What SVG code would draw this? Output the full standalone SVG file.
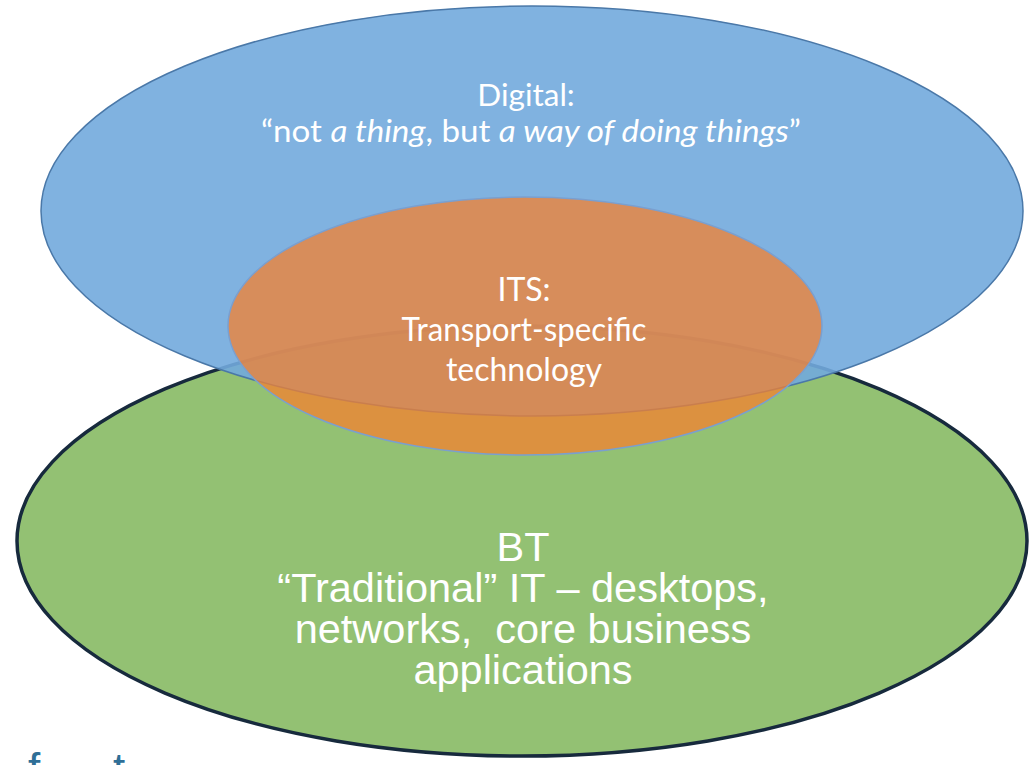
<svg xmlns="http://www.w3.org/2000/svg" width="1029" height="765" viewBox="0 0 1029 765">
<style>
.cal{font-family:Lato,"Open Sans","Noto Sans",sans-serif;fill:#ffffff;text-anchor:middle}
.ar{font-family:"Liberation Sans",Arial,sans-serif;fill:#ffffff;text-anchor:middle;white-space:pre}
.foot{font-family:"Liberation Sans",Arial,sans-serif;fill:#2f6f97;font-size:44px}
</style>
<rect width="1029" height="765" fill="#ffffff"/>
<g id="bt">
<ellipse cx="522" cy="541" rx="505" ry="215" fill="#93c173" stroke="#172a3d" stroke-width="3.5"/>
</g>
<g id="digital">
<ellipse cx="532" cy="211" rx="491" ry="205" fill="#72aadd" fill-opacity="0.9" stroke="#4a78a8" stroke-width="1.5"/>
</g>
<g id="its">
<ellipse cx="525" cy="326" rx="297" ry="129" fill="#f4802f" fill-opacity="0.75" stroke="#7a9fcf" stroke-width="1.5"/>
</g>
<g id="labels-digital">
<text class="cal" x="526" y="106" font-size="31.5">Digital:</text>
<text class="cal" x="531" y="142" font-size="31" textLength="540" lengthAdjust="spacingAndGlyphs">“not <tspan font-style="italic">a thing</tspan>, but <tspan font-style="italic">a way of doing things</tspan>”</text>
</g>
<g id="labels-its">
<text class="cal" x="524" y="301" font-size="32">ITS:</text>
<text class="cal" x="524" y="341" font-size="32" textLength="245" lengthAdjust="spacingAndGlyphs">Transport-specific</text>
<text class="cal" x="524" y="381" font-size="32">technology</text>
</g>
<g id="labels-bt">
<text class="ar" x="523" y="561" font-size="41.5">BT</text>
<text class="ar" x="523" y="602" font-size="41.5">“Traditional” IT – desktops,</text>
<text class="ar" x="523" y="643" font-size="41.5" xml:space="preserve">networks,  core business</text>
<text class="ar" x="523" y="684" font-size="41.5">applications</text>
</g>
<g id="footer">
<text class="foot" x="28" y="784">f</text>
<text class="foot" x="113" y="784">t</text>
</g>
</svg>
